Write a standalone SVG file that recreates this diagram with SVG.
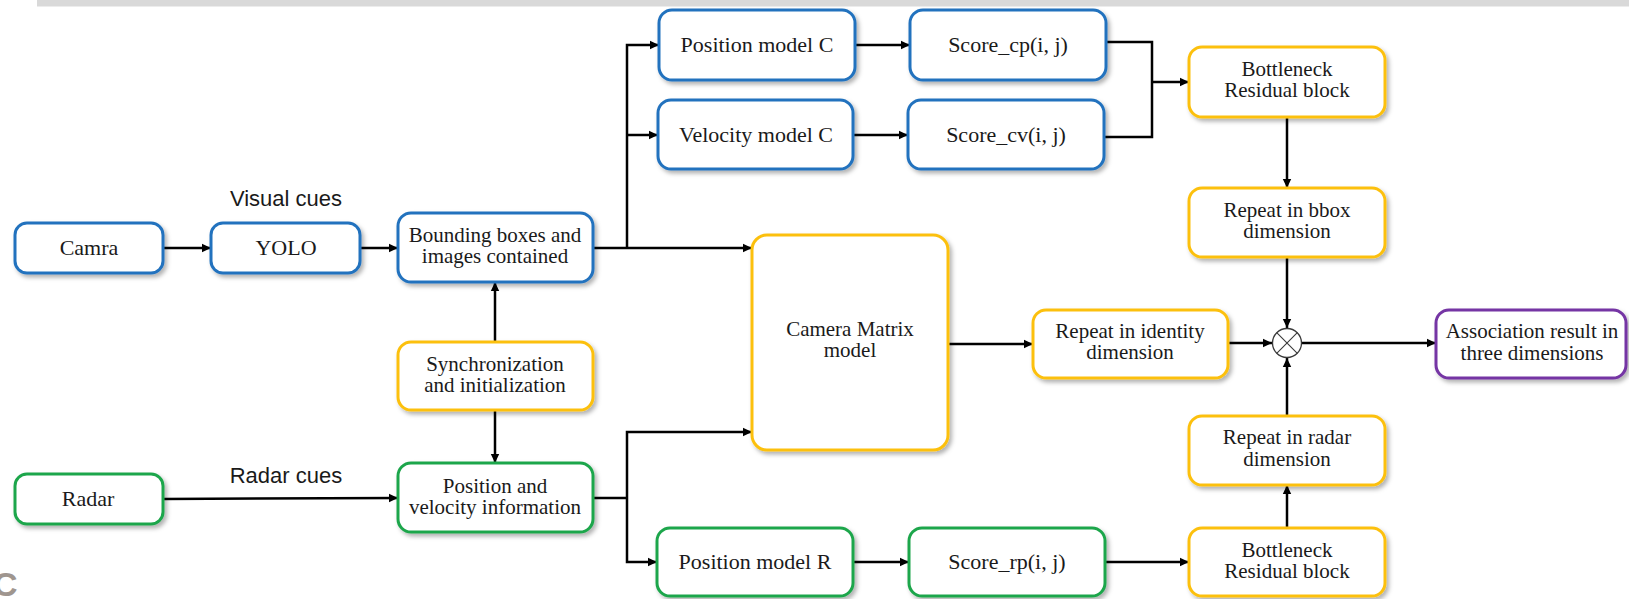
<svg xmlns="http://www.w3.org/2000/svg" width="1629" height="599" viewBox="0 0 1629 599">
<style>
.box{fill:#fff;stroke-width:3;filter:url(#sh)}
.blue{stroke:#2272be}
.green{stroke:#1fa64c}
.gold{stroke:#fcc010}
.purple{stroke:#7434a4}
.t{font-family:"Liberation Serif","Times New Roman",serif;font-size:21px;fill:#1a1a1a;text-anchor:middle}
.t1{font-size:22px}
.lab{font-family:"Liberation Sans",Arial,sans-serif;font-size:22px;fill:#1a1a1a;text-anchor:middle}
.c{fill:none;stroke:#000;stroke-width:2.5}
.a{marker-end:url(#ah)}
</style>
<defs>
<filter id="sh" x="-10%" y="-10%" width="125%" height="130%">
<feDropShadow dx="2.5" dy="3" stdDeviation="2" flood-color="#000" flood-opacity="0.3"/>
</filter>
<marker id="ah" markerUnits="userSpaceOnUse" markerWidth="10" markerHeight="10" refX="9" refY="5" orient="auto">
<path d="M0,0.8 L9,5 L0,9.2 z" fill="#000"/>
</marker>
</defs>
<rect x="37" y="0" width="1592" height="6.5" fill="#d9d9d9"/>
<text x="-7" y="596" font-family="Liberation Sans,Arial,sans-serif" font-weight="bold" font-size="34" fill="#9f968f">C</text>

<g id="connectors">
<line class="c a" x1="163" y1="248" x2="211" y2="248"/>
<line class="c a" x1="360" y1="248" x2="398" y2="248"/>
<polyline class="c a" points="593,248 752,248"/>
<polyline class="c a" points="627,248 627,45 659,45"/>
<polyline class="c a" points="627,135 658,135"/>
<line class="c a" x1="855" y1="45" x2="910" y2="45"/>
<line class="c a" x1="853" y1="135" x2="908" y2="135"/>
<polyline class="c" points="1106,42 1152,42 1152,137 1104,137"/>
<line class="c a" x1="1152" y1="82" x2="1189" y2="82"/>
<line class="c a" x1="1287" y1="117" x2="1287" y2="188"/>
<line class="c a" x1="1287" y1="257" x2="1287" y2="328"/>
<line class="c a" x1="948" y1="344" x2="1033" y2="344"/>
<line class="c a" x1="1228" y1="343" x2="1272" y2="343"/>
<line class="c a" x1="1302" y1="343" x2="1436" y2="343"/>
<line class="c a" x1="1287" y1="416" x2="1287" y2="358"/>
<line class="c a" x1="1287" y1="528" x2="1287" y2="485"/>
<line class="c a" x1="1105" y1="562" x2="1189" y2="562"/>
<line class="c a" x1="853" y1="562" x2="909" y2="562"/>
<polyline class="c" points="593,498 627,498"/>
<polyline class="c a" points="627,498 627,432 752,432"/>
<polyline class="c a" points="627,498 627,562 657,562"/>
<line class="c a" x1="495" y1="342" x2="495" y2="282"/>
<line class="c a" x1="495" y1="410" x2="495" y2="463"/>
<line class="c a" x1="163" y1="499" x2="398" y2="498"/>
</g>

<text class="lab" x="286" y="206">Visual cues</text>
<text class="lab" x="286" y="483">Radar cues</text>

<g id="camra">
<rect class="box blue" x="15" y="223" width="148" height="50" rx="12"/>
<text class="t t1" x="89" y="255">Camra</text>
</g>
<g id="yolo">
<rect class="box blue" x="211" y="223" width="149" height="50" rx="12"/>
<text class="t t1" x="286" y="255">YOLO</text>
</g>
<g id="bounding">
<rect class="box blue" x="398" y="213" width="195" height="69" rx="13"/>
<text class="t" x="495" y="242">Bounding boxes and</text>
<text class="t" x="495" y="263">images contained</text>
</g>
<g id="posc">
<rect class="box blue" x="659" y="10" width="196" height="70" rx="13"/>
<text class="t t1" x="757" y="52">Position model C</text>
</g>
<g id="velc">
<rect class="box blue" x="658" y="100" width="195" height="69" rx="13"/>
<text class="t t1" x="756" y="142">Velocity model C</text>
</g>
<g id="scorecp">
<rect class="box blue" x="910" y="10" width="196" height="70" rx="13"/>
<text class="t t1" x="1008" y="52">Score_cp(i, j)</text>
</g>
<g id="scorecv">
<rect class="box blue" x="908" y="100" width="196" height="69" rx="13"/>
<text class="t t1" x="1006" y="142">Score_cv(i, j)</text>
</g>
<g id="bottleneck1">
<rect class="box gold" x="1189" y="47" width="196" height="70" rx="13"/>
<text class="t" x="1287" y="76">Bottleneck</text>
<text class="t" x="1287" y="97">Residual block</text>
</g>
<g id="repeatbbox">
<rect class="box gold" x="1189" y="188" width="196" height="69" rx="13"/>
<text class="t" x="1287" y="217">Repeat in bbox</text>
<text class="t" x="1287" y="238">dimension</text>
</g>
<g id="cameramatrix">
<rect class="box gold" x="752" y="235" width="196" height="215" rx="15"/>
<text class="t" x="850" y="336">Camera Matrix</text>
<text class="t" x="850" y="357">model</text>
</g>
<g id="repeatidentity">
<rect class="box gold" x="1033" y="310" width="195" height="68" rx="13"/>
<text class="t" x="1130" y="338">Repeat in identity</text>
<text class="t" x="1130" y="359">dimension</text>
</g>
<g id="multiply">
<circle cx="1287" cy="343" r="14.5" fill="#fff" stroke="#3a3a3a" stroke-width="1.3"/>
<path d="M1276.7,332.7 L1297.3,353.3 M1297.3,332.7 L1276.7,353.3" stroke="#3a3a3a" stroke-width="1.1"/>
</g>
<g id="association">
<rect class="box purple" x="1436" y="310" width="190" height="68" rx="13"/>
<text class="t" x="1532" y="338">Association result in</text>
<text class="t" x="1532" y="360">three dimensions</text>
</g>
<g id="sync">
<rect class="box gold" x="398" y="342" width="195" height="68" rx="13"/>
<text class="t" x="495" y="371">Synchronization</text>
<text class="t" x="495" y="392">and initialization</text>
</g>
<g id="radar">
<rect class="box green" x="15" y="474" width="148" height="50" rx="12"/>
<text class="t t1" x="88" y="506">Radar</text>
</g>
<g id="posvel">
<rect class="box green" x="398" y="463" width="195" height="69" rx="13"/>
<text class="t" x="495" y="493">Position and</text>
<text class="t" x="495" y="514">velocity information</text>
</g>
<g id="posr">
<rect class="box green" x="657" y="528" width="196" height="68" rx="13"/>
<text class="t t1" x="755" y="569">Position model R</text>
</g>
<g id="scorerp">
<rect class="box green" x="909" y="528" width="196" height="68" rx="13"/>
<text class="t t1" x="1007" y="569">Score_rp(i, j)</text>
</g>
<g id="bottleneck2">
<rect class="box gold" x="1189" y="528" width="196" height="68" rx="13"/>
<text class="t" x="1287" y="557">Bottleneck</text>
<text class="t" x="1287" y="578">Residual block</text>
</g>
<g id="repeatradar">
<rect class="box gold" x="1189" y="416" width="196" height="69" rx="13"/>
<text class="t" x="1287" y="444">Repeat in radar</text>
<text class="t" x="1287" y="466">dimension</text>
</g>
</svg>
